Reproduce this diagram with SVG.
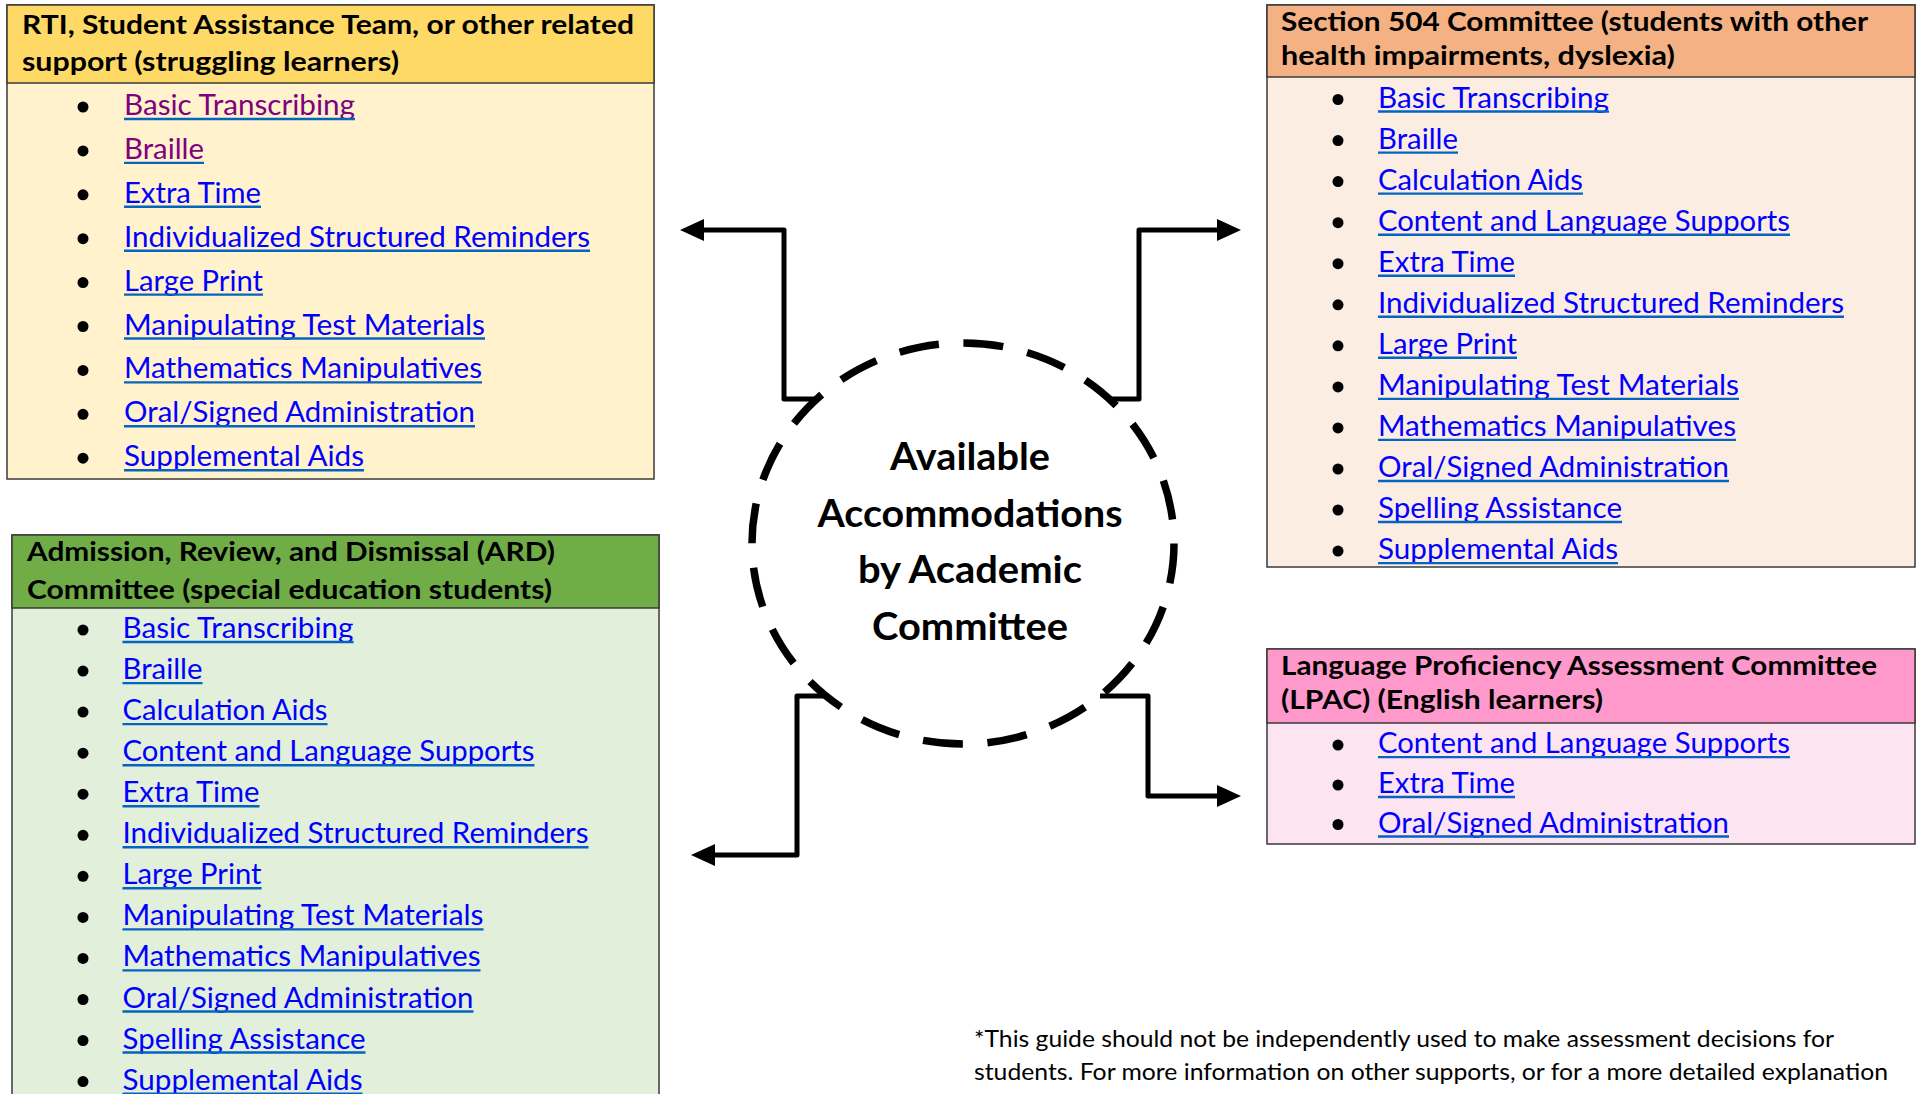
<svg xmlns="http://www.w3.org/2000/svg" width="1921" height="1094" viewBox="0 0 1921 1094">
<style>
.hdr{font-family:Lato,"Liberation Sans",sans-serif;font-weight:700;font-size:27.5px;fill:#000}
.it{font-family:Lato,"Liberation Sans",sans-serif;font-size:28.5px;fill:#0000FF}
.vis{fill:#800080}
.ul{stroke:#0563C1;stroke-width:2.4}
.bul{fill:#000}
.box{stroke:#3a3a3a;stroke-width:1.5}
.conn{fill:none;stroke:#000;stroke-width:5;stroke-linejoin:round}
.ctr{font-family:Lato,"Liberation Sans",sans-serif;font-weight:700;font-size:38px;fill:#000;text-anchor:middle}
.foot{font-family:Lato,"Liberation Sans",sans-serif;font-size:23.5px;fill:#000}
</style>
<defs>
<marker id="ah" markerUnits="userSpaceOnUse" markerWidth="24" markerHeight="22" viewBox="0 0 24 22" refX="1" refY="11" orient="auto">
<path d="M0,0 L24,11 L0,22 z" fill="#000"/>
</marker>
</defs>
<rect width="1921" height="1094" fill="#fff"/>

<g id="rti">
<rect x="7" y="5" width="647" height="474" fill="#FFF2CC" class="box"/>
<rect x="7" y="5" width="647" height="78" fill="#FFD966" class="box"/>
<text class="hdr" x="22" y="34" textLength="612" lengthAdjust="spacingAndGlyphs">RTI, Student Assistance Team, or other related</text>
<text class="hdr" x="22" y="71" textLength="377" lengthAdjust="spacingAndGlyphs">support (struggling learners)</text>
<g transform="translate(0,2.5)">
<circle class="bul" cx="83" cy="104.5" r="5.5"/><text class="it vis" x="124" y="112.5" textLength="231" lengthAdjust="spacingAndGlyphs">Basic Transcribing</text><line class="ul" x1="124" x2="355" y1="116.5" y2="116.5"/>
<circle class="bul" cx="83" cy="148.4" r="5.5"/><text class="it vis" x="124" y="156.4" textLength="80" lengthAdjust="spacingAndGlyphs">Braille</text><line class="ul" x1="124" x2="204" y1="160.4" y2="160.4"/>
<circle class="bul" cx="83" cy="192.3" r="5.5"/><text class="it" x="124" y="200.3" textLength="137" lengthAdjust="spacingAndGlyphs">Extra Time</text><line class="ul" x1="124" x2="261" y1="204.3" y2="204.3"/>
<circle class="bul" cx="83" cy="236.2" r="5.5"/><text class="it" x="124" y="244.2" textLength="466" lengthAdjust="spacingAndGlyphs">Individualized Structured Reminders</text><line class="ul" x1="124" x2="590" y1="248.2" y2="248.2"/>
<circle class="bul" cx="83" cy="280.1" r="5.5"/><text class="it" x="124" y="288.1" textLength="139" lengthAdjust="spacingAndGlyphs">Large Print</text><line class="ul" x1="124" x2="263" y1="292.1" y2="292.1"/>
<circle class="bul" cx="83" cy="324" r="5.5"/><text class="it" x="124" y="332" textLength="361" lengthAdjust="spacingAndGlyphs">Manipulating Test Materials</text><line class="ul" x1="124" x2="485" y1="336" y2="336"/>
<circle class="bul" cx="83" cy="367.9" r="5.5"/><text class="it" x="124" y="375.9" textLength="358" lengthAdjust="spacingAndGlyphs">Mathematics Manipulatives</text><line class="ul" x1="124" x2="482" y1="379.9" y2="379.9"/>
<circle class="bul" cx="83" cy="411.8" r="5.5"/><text class="it" x="124" y="419.8" textLength="351" lengthAdjust="spacingAndGlyphs">Oral/Signed Administration</text><line class="ul" x1="124" x2="475" y1="423.8" y2="423.8"/>
<circle class="bul" cx="83" cy="455.7" r="5.5"/><text class="it" x="124" y="463.7" textLength="240" lengthAdjust="spacingAndGlyphs">Supplemental Aids</text><line class="ul" x1="124" x2="364" y1="467.7" y2="467.7"/>
</g>
</g>

<g id="s504">
<rect x="1267" y="5" width="648" height="562" fill="#FCEDE3" class="box"/>
<rect x="1267" y="5" width="648" height="72" fill="#F4B183" class="box"/>
<text class="hdr" x="1281" y="31" textLength="587" lengthAdjust="spacingAndGlyphs">Section 504 Committee (students with other</text>
<text class="hdr" x="1281" y="65" textLength="394" lengthAdjust="spacingAndGlyphs">health impairments, dyslexia)</text>
<g transform="translate(0,2.5)">
<circle class="bul" cx="1338" cy="97" r="5.5"/><text class="it" x="1378" y="105" textLength="231" lengthAdjust="spacingAndGlyphs">Basic Transcribing</text><line class="ul" x1="1378" x2="1609" y1="109" y2="109"/>
<circle class="bul" cx="1338" cy="138.1" r="5.5"/><text class="it" x="1378" y="146.1" textLength="80" lengthAdjust="spacingAndGlyphs">Braille</text><line class="ul" x1="1378" x2="1458" y1="150.1" y2="150.1"/>
<circle class="bul" cx="1338" cy="179.1" r="5.5"/><text class="it" x="1378" y="187.1" textLength="205" lengthAdjust="spacingAndGlyphs">Calculation Aids</text><line class="ul" x1="1378" x2="1583" y1="191.1" y2="191.1"/>
<circle class="bul" cx="1338" cy="220.2" r="5.5"/><text class="it" x="1378" y="228.2" textLength="412" lengthAdjust="spacingAndGlyphs">Content and Language Supports</text><line class="ul" x1="1378" x2="1790" y1="232.2" y2="232.2"/>
<circle class="bul" cx="1338" cy="261.2" r="5.5"/><text class="it" x="1378" y="269.2" textLength="137" lengthAdjust="spacingAndGlyphs">Extra Time</text><line class="ul" x1="1378" x2="1515" y1="273.2" y2="273.2"/>
<circle class="bul" cx="1338" cy="302.3" r="5.5"/><text class="it" x="1378" y="310.3" textLength="466" lengthAdjust="spacingAndGlyphs">Individualized Structured Reminders</text><line class="ul" x1="1378" x2="1844" y1="314.3" y2="314.3"/>
<circle class="bul" cx="1338" cy="343.3" r="5.5"/><text class="it" x="1378" y="351.3" textLength="139" lengthAdjust="spacingAndGlyphs">Large Print</text><line class="ul" x1="1378" x2="1517" y1="355.3" y2="355.3"/>
<circle class="bul" cx="1338" cy="384.4" r="5.5"/><text class="it" x="1378" y="392.4" textLength="361" lengthAdjust="spacingAndGlyphs">Manipulating Test Materials</text><line class="ul" x1="1378" x2="1739" y1="396.4" y2="396.4"/>
<circle class="bul" cx="1338" cy="425.4" r="5.5"/><text class="it" x="1378" y="433.4" textLength="358" lengthAdjust="spacingAndGlyphs">Mathematics Manipulatives</text><line class="ul" x1="1378" x2="1736" y1="437.4" y2="437.4"/>
<circle class="bul" cx="1338" cy="466.5" r="5.5"/><text class="it" x="1378" y="474.5" textLength="351" lengthAdjust="spacingAndGlyphs">Oral/Signed Administration</text><line class="ul" x1="1378" x2="1729" y1="478.5" y2="478.5"/>
<circle class="bul" cx="1338" cy="507.5" r="5.5"/><text class="it" x="1378" y="515.5" textLength="244" lengthAdjust="spacingAndGlyphs">Spelling Assistance</text><line class="ul" x1="1378" x2="1622" y1="519.5" y2="519.5"/>
<circle class="bul" cx="1338" cy="548.6" r="5.5"/><text class="it" x="1378" y="556.6" textLength="240" lengthAdjust="spacingAndGlyphs">Supplemental Aids</text><line class="ul" x1="1378" x2="1618" y1="560.6" y2="560.6"/>
</g>
</g>

<g id="ard">
<rect x="12" y="535" width="647" height="570" fill="#E2EFDA" class="box"/>
<rect x="12" y="535" width="647" height="73" fill="#70AD47" class="box"/>
<text class="hdr" x="27" y="561" textLength="528" lengthAdjust="spacingAndGlyphs">Admission, Review, and Dismissal (ARD)</text>
<text class="hdr" x="27" y="599" textLength="525" lengthAdjust="spacingAndGlyphs">Committee (special education students)</text>
<g transform="translate(0,2.5)">
<circle class="bul" cx="83" cy="627.5" r="5.5"/><text class="it" x="122.5" y="635.5" textLength="231" lengthAdjust="spacingAndGlyphs">Basic Transcribing</text><line class="ul" x1="122.5" x2="353.5" y1="639.5" y2="639.5"/>
<circle class="bul" cx="83" cy="668.6" r="5.5"/><text class="it" x="122.5" y="676.6" textLength="80" lengthAdjust="spacingAndGlyphs">Braille</text><line class="ul" x1="122.5" x2="202.5" y1="680.6" y2="680.6"/>
<circle class="bul" cx="83" cy="709.6" r="5.5"/><text class="it" x="122.5" y="717.6" textLength="205" lengthAdjust="spacingAndGlyphs">Calculation Aids</text><line class="ul" x1="122.5" x2="327.5" y1="721.6" y2="721.6"/>
<circle class="bul" cx="83" cy="750.7" r="5.5"/><text class="it" x="122.5" y="758.7" textLength="412" lengthAdjust="spacingAndGlyphs">Content and Language Supports</text><line class="ul" x1="122.5" x2="534.5" y1="762.7" y2="762.7"/>
<circle class="bul" cx="83" cy="791.7" r="5.5"/><text class="it" x="122.5" y="799.7" textLength="137" lengthAdjust="spacingAndGlyphs">Extra Time</text><line class="ul" x1="122.5" x2="259.5" y1="803.7" y2="803.7"/>
<circle class="bul" cx="83" cy="832.8" r="5.5"/><text class="it" x="122.5" y="840.8" textLength="466" lengthAdjust="spacingAndGlyphs">Individualized Structured Reminders</text><line class="ul" x1="122.5" x2="588.5" y1="844.8" y2="844.8"/>
<circle class="bul" cx="83" cy="873.8" r="5.5"/><text class="it" x="122.5" y="881.8" textLength="139" lengthAdjust="spacingAndGlyphs">Large Print</text><line class="ul" x1="122.5" x2="261.5" y1="885.8" y2="885.8"/>
<circle class="bul" cx="83" cy="914.9" r="5.5"/><text class="it" x="122.5" y="922.9" textLength="361" lengthAdjust="spacingAndGlyphs">Manipulating Test Materials</text><line class="ul" x1="122.5" x2="483.5" y1="926.9" y2="926.9"/>
<circle class="bul" cx="83" cy="955.9" r="5.5"/><text class="it" x="122.5" y="963.9" textLength="358" lengthAdjust="spacingAndGlyphs">Mathematics Manipulatives</text><line class="ul" x1="122.5" x2="480.5" y1="967.9" y2="967.9"/>
<circle class="bul" cx="83" cy="997" r="5.5"/><text class="it" x="122.5" y="1005" textLength="351" lengthAdjust="spacingAndGlyphs">Oral/Signed Administration</text><line class="ul" x1="122.5" x2="473.5" y1="1009" y2="1009"/>
<circle class="bul" cx="83" cy="1038" r="5.5"/><text class="it" x="122.5" y="1046" textLength="243" lengthAdjust="spacingAndGlyphs">Spelling Assistance</text><line class="ul" x1="122.5" x2="365.5" y1="1050" y2="1050"/>
<circle class="bul" cx="83" cy="1079.1" r="5.5"/><text class="it" x="122.5" y="1087.1" textLength="240" lengthAdjust="spacingAndGlyphs">Supplemental Aids</text><line class="ul" x1="122.5" x2="362.5" y1="1091.1" y2="1091.1"/>
</g>
</g>

<g id="lpac">
<rect x="1267" y="649" width="648" height="195" fill="#FDE4F1" class="box"/>
<rect x="1267" y="649" width="648" height="74" fill="#FF99CC" class="box"/>
<text class="hdr" x="1281" y="675" textLength="596" lengthAdjust="spacingAndGlyphs">Language Proficiency Assessment Committee</text>
<text class="hdr" x="1281" y="709" textLength="322" lengthAdjust="spacingAndGlyphs">(LPAC) (English learners)</text>
<g transform="translate(0,2.5)">
<circle class="bul" cx="1338" cy="742.6" r="5.5"/><text class="it" x="1378" y="750.6" textLength="412" lengthAdjust="spacingAndGlyphs">Content and Language Supports</text><line class="ul" x1="1378" x2="1790" y1="754.6" y2="754.6"/>
<circle class="bul" cx="1338" cy="782.5" r="5.5"/><text class="it" x="1378" y="790.5" textLength="137" lengthAdjust="spacingAndGlyphs">Extra Time</text><line class="ul" x1="1378" x2="1515" y1="794.5" y2="794.5"/>
<circle class="bul" cx="1338" cy="822" r="5.5"/><text class="it" x="1378" y="830" textLength="351" lengthAdjust="spacingAndGlyphs">Oral/Signed Administration</text><line class="ul" x1="1378" x2="1729" y1="834" y2="834"/>
</g>
</g>

<g id="connectors">
<path class="conn" d="M818 399 H784 V230 H703" marker-end="url(#ah)"/>
<path class="conn" d="M1109 399 H1139 V230 H1218" marker-end="url(#ah)"/>
<path class="conn" d="M828 696 H797 V855 H714" marker-end="url(#ah)"/>
<path class="conn" d="M1100 696 H1148 V796 H1218" marker-end="url(#ah)"/>
</g>

<g id="center">
<ellipse cx="963" cy="543.5" rx="211" ry="200.5" fill="none" stroke="#000" stroke-width="7.5" stroke-dasharray="40 24.65"/>
<text class="ctr" x="970" y="470" textLength="160" lengthAdjust="spacingAndGlyphs">Available</text>
<text class="ctr" x="970" y="526.5" textLength="305" lengthAdjust="spacingAndGlyphs">Accommodations</text>
<text class="ctr" x="970" y="583" textLength="224" lengthAdjust="spacingAndGlyphs">by Academic</text>
<text class="ctr" x="970" y="639.5" textLength="196" lengthAdjust="spacingAndGlyphs">Committee</text>
</g>

<g id="footnote">
<text class="foot" x="974" y="1047" textLength="860" lengthAdjust="spacingAndGlyphs">*This guide should not be independently used to make assessment decisions for</text>
<text class="foot" x="974" y="1080" textLength="914" lengthAdjust="spacingAndGlyphs">students. For more information on other supports, or for a more detailed explanation</text>
</g>
</svg>
